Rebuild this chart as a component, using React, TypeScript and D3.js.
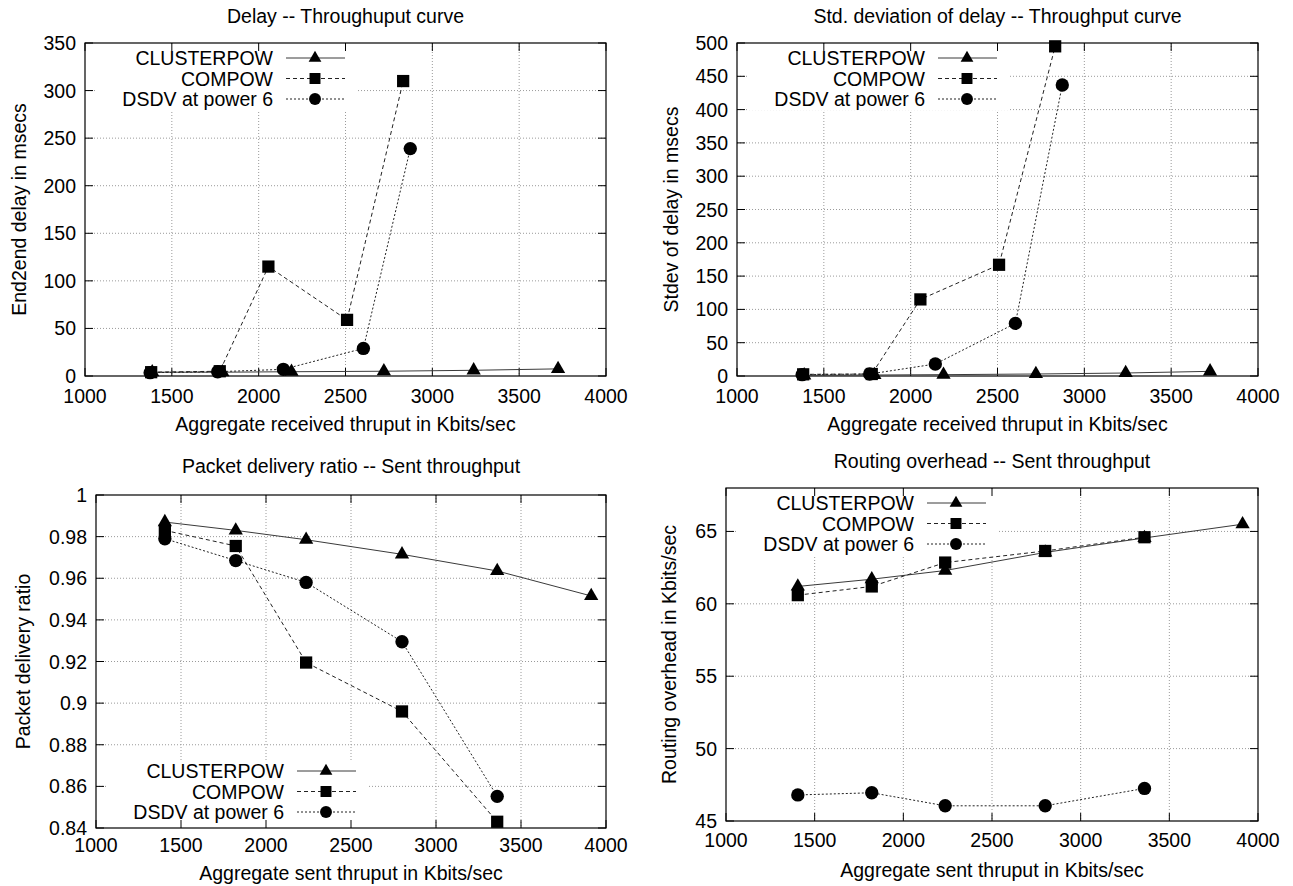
import * as d3 from "d3";

const FONT = "'Liberation Sans', Arial, Helvetica, sans-serif";
const FS = 19.5;

const seriesNames = ["CLUSTERPOW", "COMPOW", "DSDV at power 6"];
const xTicks = [1000, 1500, 2000, 2500, 3000, 3500, 4000];

// received thruput (top panels), one x list per protocol
const clusterRecvX = [1387, 1791, 2189, 2721, 3238, 3724];
const compowRecvX = [1381, 1776, 2056, 2509, 2832];
const dsdvRecvX = [1375, 1764, 2142, 2603, 2873];

// sent thruput (bottom panels)
const clusterSentX = [1405, 1822, 2236, 2800, 3360, 3913];
const compowSentX = [1405, 1822, 2236, 2800, 3360];
const dsdvSentX = [1405, 1822, 2236, 2800, 3360];

// end2end delay (msecs)
const clusterDelay = [4, 4, 4.5, 5, 6, 7.5];
const compowDelay = [4, 5, 115, 59, 310];
const dsdvDelay = [3.5, 4.5, 7, 29, 239];

// std dev of delay (msecs)
const clusterStdev = [1, 1.5, 2, 3, 4.5, 7];
const compowStdev = [2.5, 3, 115, 167, 495];
const dsdvStdev = [2, 3, 18, 79, 437];

// packet delivery ratio
const clusterPdr = [0.987, 0.983, 0.9785, 0.9715, 0.9635, 0.9515];
const compowPdr = [0.983, 0.9755, 0.9195, 0.896, 0.843];
const dsdvPdr = [0.979, 0.9685, 0.958, 0.9295, 0.8552];

// routing overhead (Kbits/sec)
const clusterOvh = [61.2, 61.7, 62.3, 63.55, 64.55, 65.5];
const compowOvh = [60.6, 61.2, 62.85, 63.65, 64.6];
const dsdvOvh = [46.8, 46.95, 46.05, 46.05, 47.25];

const delayTicks = [0, 50, 100, 150, 200, 250, 300, 350];
const stdevTicks = [0, 50, 100, 150, 200, 250, 300, 350, 400, 450, 500];
const pdrTicks = [0.84, 0.86, 0.88, 0.9, 0.92, 0.94, 0.96, 0.98, 1];
const ovhTicks = [45, 50, 55, 60, 65];

const styles = [
  { dash: null, shape: "tri", stroke: "#3a3a3a" },
  { dash: "4,3", shape: "sq", stroke: "#222" },
  { dash: "2,2", shape: "circ", stroke: "#222" },
];

function zip(xs, ys) {
  return xs.map((v, i) => [v, ys[i]]);
}

const panels = [
  {
    title: "Delay -- Throughuput curve",
    xLabel: "Aggregate received thruput in Kbits/sec",
    yLabel: "End2end delay in msecs",
    box: { L: 85, R: 606, T: 43, B: 376 },
    yDomain: [0, 350],
    yTicks: delayTicks,
    titleY: 16,
    xTickY: 396,
    xLabelY: 424,
    yLabelX: 19,
    legend: "top",
    series: [zip(clusterRecvX, clusterDelay), zip(compowRecvX, compowDelay), zip(dsdvRecvX, dsdvDelay)],
  },
  {
    title: "Std. deviation of delay -- Throughput curve",
    xLabel: "Aggregate received thruput in Kbits/sec",
    yLabel: "Stdev of delay in msecs",
    box: { L: 737, R: 1258, T: 43, B: 376 },
    yDomain: [0, 500],
    yTicks: stdevTicks,
    titleY: 16,
    xTickY: 396,
    xLabelY: 424,
    yLabelX: 671,
    legend: "top",
    series: [zip(clusterRecvX, clusterStdev), zip(compowRecvX, compowStdev), zip(dsdvRecvX, dsdvStdev)],
  },
  {
    title: "Packet delivery ratio -- Sent throughput",
    xLabel: "Aggregate sent thruput in Kbits/sec",
    yLabel: "Packet delivery ratio",
    box: { L: 96, R: 606, T: 495, B: 828 },
    yDomain: [0.84, 1],
    yTicks: pdrTicks,
    titleY: 466,
    xTickY: 845,
    xLabelY: 873,
    yLabelX: 23,
    legend: "bottom",
    series: [zip(clusterSentX, clusterPdr), zip(compowSentX, compowPdr), zip(dsdvSentX, dsdvPdr)],
  },
  {
    title: "Routing overhead -- Sent throughput",
    xLabel: "Aggregate sent thruput in Kbits/sec",
    yLabel: "Routing overhead in Kbits/sec",
    box: { L: 726, R: 1258, T: 488, B: 821 },
    yDomain: [45, 68],
    yTicks: ovhTicks,
    titleY: 461,
    xTickY: 840,
    xLabelY: 870,
    yLabelX: 669,
    legend: "top",
    series: [zip(clusterSentX, clusterOvh), zip(compowSentX, compowOvh), zip(dsdvSentX, dsdvOvh)],
  },
];

function Marker({ shape, cx, cy, scale = 1 }) {
  let area = 140;
  let type = d3.symbolCircle;
  if (shape === "tri") {
    area = 88;
    type = d3.symbolTriangle;
  } else if (shape === "sq") {
    area = 150;
    type = d3.symbolSquare;
  }
  const p = d3.symbol(type, area * scale)();
  return <path d={p} transform={`translate(${cx},${cy})`} fill="#000" />;
}

function fmt(v) {
  return String(+v.toFixed(2));
}

function Panel({ cfg }) {
  const { L, R, T, B } = cfg.box;
  const x = d3.scaleLinear().domain([1000, 4000]).range([L, R]);
  const y = d3.scaleLinear().domain(cfg.yDomain).range([B, T]);
  const line = d3
    .line()
    .x((d) => x(d[0]))
    .y((d) => y(d[1]));
  const tick = 8;

  const rows =
    cfg.legend === "top" ? [T + 15, T + 35.5, T + 56] : [B - 57, B - 36.5, B - 16];
  const boxY0 = cfg.legend === "top" ? T + 1 : B - 68;
  const boxY1 = cfg.legend === "top" ? T + 67 : B - 1;

  return (
    <g>
      {/* grid */}
      {xTicks.slice(1, -1).map((t) => (
        <line key={"gx" + t} x1={x(t)} x2={x(t)} y1={T} y2={B} stroke="#9a9a9a" strokeWidth={1} strokeDasharray="1,2" />
      ))}
      {cfg.yTicks
        .filter((t) => y(t) > T + 1 && y(t) < B - 1)
        .map((t) => (
          <line key={"gy" + t} x1={L} x2={R} y1={y(t)} y2={y(t)} stroke="#9a9a9a" strokeWidth={1} strokeDasharray="1,2" />
        ))}

      {/* legend background */}
      <rect x={L + 12} y={boxY0} width={260} height={boxY1 - boxY0} fill="#fff" />

      {/* ticks */}
      {xTicks.map((t) => (
        <g key={"tx" + t}>
          <line x1={x(t)} x2={x(t)} y1={B} y2={B - tick} stroke="#000" />
          <line x1={x(t)} x2={x(t)} y1={T} y2={T + tick} stroke="#000" />
        </g>
      ))}
      {cfg.yTicks.map((t) => (
        <g key={"ty" + t}>
          <line x1={L} x2={L + tick} y1={y(t)} y2={y(t)} stroke="#000" />
          <line x1={R} x2={R - tick} y1={y(t)} y2={y(t)} stroke="#000" />
        </g>
      ))}

      {/* border */}
      <rect x={L} y={T} width={R - L} height={B - T} fill="none" stroke="#000" strokeWidth={1.2} />

      {/* series */}
      {cfg.series.map((pts, i) => (
        <path
          key={"s" + i}
          d={line(pts)}
          fill="none"
          stroke={styles[i].stroke}
          strokeWidth={1}
          strokeDasharray={styles[i].dash || undefined}
        />
      ))}
      {cfg.series.map((pts, i) =>
        pts.map((d, j) => <Marker key={"m" + i + "-" + j} shape={styles[i].shape} cx={x(d[0])} cy={y(d[1])} />)
      )}

      {/* legend */}
      {seriesNames.map((name, i) => (
        <g key={"lg" + i}>
          <text x={L + 188} y={rows[i]} textAnchor="end" dominantBaseline="central" fontSize={FS}>
            {name}
          </text>
          <line
            x1={L + 201}
            x2={L + 260}
            y1={rows[i]}
            y2={rows[i]}
            stroke={styles[i].stroke}
            strokeWidth={1}
            strokeDasharray={styles[i].dash || undefined}
          />
          <Marker shape={styles[i].shape} cx={L + 230} cy={rows[i]} scale={0.8} />
        </g>
      ))}

      {/* tick labels */}
      {xTicks.map((t) => (
        <text key={"lx" + t} x={x(t)} y={cfg.xTickY} textAnchor="middle" dominantBaseline="central" fontSize={FS}>
          {t}
        </text>
      ))}
      {cfg.yTicks.map((t) => (
        <text key={"ly" + t} x={L - 9} y={y(t)} textAnchor="end" dominantBaseline="central" fontSize={FS}>
          {fmt(t)}
        </text>
      ))}

      {/* titles */}
      <text x={(L + R) / 2} y={cfg.titleY} textAnchor="middle" dominantBaseline="central" fontSize={FS}>
        {cfg.title}
      </text>
      <text x={(L + R) / 2} y={cfg.xLabelY} textAnchor="middle" dominantBaseline="central" fontSize={FS}>
        {cfg.xLabel}
      </text>
      <text
        transform={`translate(${cfg.yLabelX},${(T + B) / 2}) rotate(-90)`}
        textAnchor="middle"
        dominantBaseline="central"
        fontSize={FS}
      >
        {cfg.yLabel}
      </text>
    </g>
  );
}

export default function App() {
  return (
    <svg
      width={1293}
      height={886}
      style={{ position: "absolute", left: 0, top: 0, background: "#fff" }}
      fontFamily={FONT}
      fill="#000"
    >
      <rect width={1293} height={886} fill="#fff" />
      {panels.map((p, i) => (
        <Panel key={i} cfg={p} />
      ))}
    </svg>
  );
}
